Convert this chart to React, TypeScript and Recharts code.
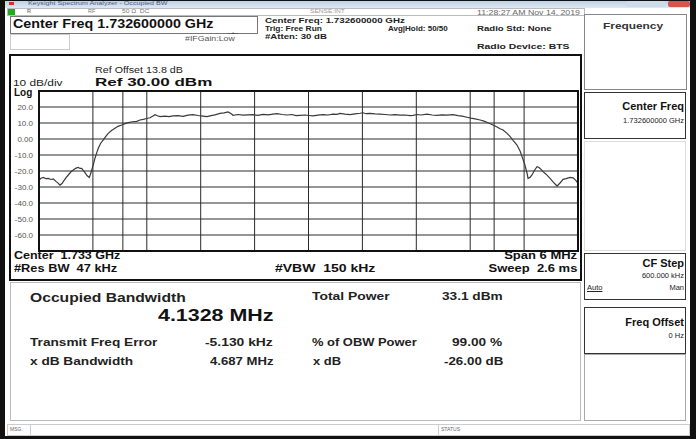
import { LineChart, Line, XAxis, YAxis, CartesianGrid, ReferenceLine } from 'recharts'

// frequency offset from centre (MHz) and trace level (dBm)
const freqOffsetMHz = [
  -3.0, -2.978, -2.952, -2.922, -2.896, -2.866, -2.841, -2.811, -2.785, -2.766,
  -2.744, -2.73, -2.699, -2.674, -2.644, -2.618, -2.588, -2.563, -2.544, -2.525,
  -2.505, -2.488, -2.466, -2.44, -2.427, -2.413, -2.393, -2.377, -2.357, -2.34,
  -2.315, -2.284, -2.254, -2.229, -2.193, -2.154, -2.121, -2.079, -2.043, -2.006,
  -1.959, -1.912, -1.876, -1.839, -1.803, -1.764, -1.736, -1.709, -1.681, -1.653,
  -1.598, -1.553, -1.508, -1.453, -1.397, -1.341, -1.286, -1.23, -1.174, -1.13,
  -1.085, -1.041, -0.985, -0.941, -0.896, -0.863, -0.84, -0.785, -0.729, -0.673,
  -0.618, -0.562, -0.506, -0.451, -0.395, -0.351, -0.295, -0.239, -0.184, -0.139,
  -0.095, -0.039, 0.006, 0.05, 0.106, 0.162, 0.217, 0.273, 0.317, 0.351,
  0.406, 0.462, 0.518, 0.573, 0.607, 0.64, 0.685, 0.741, 0.796, 0.852,
  0.907, 0.963, 1.019, 1.074, 1.13, 1.163, 1.208, 1.252, 1.319, 1.375,
  1.43, 1.486, 1.542, 1.608, 1.664, 1.709, 1.765, 1.809, 1.854, 1.91,
  1.954, 1.998, 2.054, 2.099, 2.132, 2.166, 2.21, 2.243, 2.277, 2.321,
  2.355, 2.377, 2.405, 2.433, 2.444, 2.466, 2.488, 2.516, 2.544, 2.566,
  2.588, 2.611, 2.644, 2.689, 2.722, 2.767, 2.8, 2.834, 2.867, 2.912,
  2.945, 2.978, 3.0,
]

const traceDbm = [
  -25.6, -24.5, -24.0, -24.8, -24.6, -25.3, -25.0, -26.5, -27.7, -28.8,
  -27.8, -26.7, -24.2, -22.5, -20.5, -19.4, -18.2, -17.7, -18.4, -18.3,
  -19.8, -21.0, -22.8, -24.0, -22.0, -19.4, -15.5, -12.0, -8.5, -5.8,
  -2.8, -0.6, 1.8, 3.5, 5.3, 6.7, 7.9, 8.75, 9.6, 10.2,
  10.8, 11.0, 11.9, 12.3, 12.8, 13.3, 14.2, 15.2, 14.5, 14.0,
  14.3, 14.0, 14.4, 14.6, 14.2, 14.9, 15.2, 14.7, 14.3, 14.0,
  14.6, 15.1, 16.0, 16.3, 16.9, 15.9, 14.8, 15.3, 14.9, 15.1,
  15.2, 14.8, 15.4, 15.1, 15.6, 15.8, 15.3, 15.0, 15.3, 14.6,
  14.8, 15.0, 14.7, 14.4, 14.9, 15.2, 15.0, 15.6, 15.4, 16.0,
  15.5, 15.2, 15.7, 16.1, 16.4, 15.8, 16.0, 15.7, 15.5, 15.3,
  15.0, 15.2, 14.9, 15.0, 14.6, 14.8, 15.3, 15.0, 15.6, 15.0,
  14.8, 15.1, 14.9, 15.2, 14.6, 14.3, 13.6, 13.0, 12.6, 11.9,
  11.2, 10.2, 8.75, 7.5, 6.4, 5.6, 3.5, 1.6, -0.8, -3.75,
  -7.5, -11.0, -15.5, -21.4, -24.6, -24.0, -22.5, -19.5, -17.3, -17.8,
  -19.0, -20.4, -22.0, -24.6, -26.8, -29.4, -27.5, -25.2, -24.8, -24.0,
  -24.3, -26.0, -27.7,
]

const xTicks = [-3, -2.4, -1.8, -1.2, -0.6, 0, 0.6, 1.2, 1.8, 2.4, 3]
const yTicks = [-70, -60, -50, -40, -30, -20, -10, 0, 10, 20, 30]
const obwMHz = 4.1328

const data = freqOffsetMHz.map((f, i) => ({ f, dbm: traceDbm[i] }))

const font = '"Liberation Sans", Arial, sans-serif'

// screen text; the analyser's font is wide, so most labels get stretched a little
function T({ x, y, size = 9, bold = false, color = '#111', right, sx = 1, children, underline }: any) {
  const style: any = {
    position: 'absolute',
    top: y - size * 0.58,
    fontSize: size,
    lineHeight: 1,
    fontWeight: bold ? 700 : 400,
    color,
    whiteSpace: 'pre',
    textDecoration: underline ? 'underline' : 'none',
    transform: `scaleX(${sx})`,
    transformOrigin: right !== undefined ? 'right center' : 'left center',
  }
  if (right !== undefined) style.right = 696 - right
  else style.left = x
  return <div style={style}>{children}</div>
}

function Box({ x, y, w, h, border = '1px solid #999', bg = 'transparent' }: any) {
  return (
    <div
      style={{
        position: 'absolute', left: x, top: y, width: w, height: h,
        border, background: bg, boxSizing: 'border-box',
      }}
    />
  )
}

const fmtY = (v: number) => {
  if (v === 30 || v === -70) return ''
  if (v === 0) return '0.00'
  return v.toFixed(1)
}

export default function App() {
  return (
    <div
      style={{
        position: 'fixed', left: 0, top: 0, width: 696, height: 439,
        background: '#fff', overflow: 'hidden', fontFamily: font,
      }}
    >
      {/* title bar */}
      <div style={{ position: 'absolute', left: 0, top: 0, width: 696, height: 8, background: 'linear-gradient(#b9cde4, #dfe8f3)' }} />
      <div style={{ position: 'absolute', left: 9, top: 2, width: 5, height: 3, background: '#c33' }} />
      <T x={28} y={4} size={5.5} sx={1.3} color="#4a5b80">Keysight Spectrum Analyzer - Occupied BW</T>
      <div style={{ position: 'absolute', left: 626, top: 1, width: 40, height: 6, background: '#cddbeb', borderRadius: 2 }} />
      <div style={{ position: 'absolute', left: 668, top: 1, width: 22, height: 6, background: '#d9534f', borderRadius: 2 }} />

      {/* status row */}
      <Box x={7} y={8} w={578} h={8} border="1px solid #bbb" />
      <div style={{ position: 'absolute', left: 8, top: 9, width: 7, height: 6, background: '#2a2' }} />
      <T x={27} y={12} size={5.5} color="#555">R</T>
      <T x={88} y={12} size={5.5} color="#777">RF</T>
      <T x={122} y={12} size={5.5} sx={1.2} color="#777">50 Ω  DC</T>
      <T x={310} y={12} size={5.5} sx={1.2} color="#999">SENSE:INT</T>
      <T x={477} y={13} size={7} sx={1.25} color="#666">11:28:27 AM Nov 14, 2019</T>

      {/* header */}
      <Box x={10} y={16} w={248} h={18} border="1px solid #777" />
      <T x={13} y={25} size={13.5} sx={1.06} bold>Center Freq 1.732600000 GHz</T>
      <Box x={10} y={34} w={60} h={16} border="1px solid #ccc" />
      <T x={228} y={33} size={6} color="#333">--•--</T>
      <T x={185} y={40} size={6.5} sx={1.35} color="#555">#IFGain:Low</T>
      <T x={265} y={21} size={7.5} sx={1.3} bold color="#222">Center Freq: 1.732600000 GHz</T>
      <T x={265} y={30} size={8} sx={1.05} bold color="#222">Trig: Free Run</T>
      <T x={265} y={38} size={8} sx={1.2} bold color="#222">#Atten: 30 dB</T>
      <T x={388} y={30} size={8} sx={1.0} bold color="#222">Avg|Hold: 50/50</T>
      <T x={477} y={30} size={8} sx={1.2} bold color="#222">Radio Std: None</T>
      <T x={477} y={48} size={8} sx={1.3} bold color="#222">Radio Device: BTS</T>

      {/* right softkey panel */}
      <Box x={584} y={14} w={103} h={76} border="1px solid #888" />
      <T x={603} y={27} size={9.5} sx={1.25} bold color="#333">Frequency</T>
      <Box x={584} y={92} w={102} h={47} border="1px solid #333" />
      <T right={684} y={107} size={11} bold>Center Freq</T>
      <T right={684} y={121} size={7.5} color="#222">1.732600000 GHz</T>
      <Box x={584} y={141} w={102} h={110} border="1px solid #ddd" />
      <Box x={584} y={253} w={102} h={47} border="1px solid #333" />
      <T right={684} y={264} size={11} bold>CF Step</T>
      <T right={684} y={276} size={7.5} color="#222">600.000 kHz</T>
      <T x={587} y={288} size={7.5} color="#222" underline>Auto</T>
      <T right={684} y={288} size={7.5} color="#222">Man</T>
      <Box x={584} y={307} w={102} h={47} border="1px solid #333" />
      <T right={684} y={323} size={11} bold>Freq Offset</T>
      <T right={684} y={336} size={7.5} color="#222">0 Hz</T>
      <Box x={584} y={354} w={102} h={67} border="1px solid #aaa" />

      {/* graph panel */}
      <Box x={9} y={54} w={573} h={227} border="2px solid #111" />
      <T x={95} y={71} size={8.5} sx={1.26} color="#222">Ref Offset 13.8 dB</T>
      <T x={13} y={84} size={9.5} sx={1.25} color="#222">10 dB/div</T>
      <T x={95} y={84} size={11.5} sx={1.48} bold>Ref 30.00 dBm</T>
      <T x={14} y={94} size={10} bold>Log</T>

      <div style={{ position: 'absolute', left: 0, top: 81 }}>
        <LineChart width={590} height={180} data={data} margin={{ top: 10, right: 12, bottom: 10, left: 0 }}>
          <CartesianGrid stroke="#2a2a2a" strokeWidth={1} vertical={false} />
          <XAxis
            dataKey="f" type="number" domain={[-3, 3]} ticks={xTicks}
            height={0} tick={false} axisLine={false} tickLine={false}
          />
          <YAxis
            type="number" domain={[-70, 30]} ticks={yTicks} width={39}
            tickFormatter={fmtY} axisLine={false} tickLine={false} tickSize={0} tickMargin={6}
            tick={{ fontSize: 8, fill: '#555', fontFamily: font }}
            interval={0}
          />
          {xTicks.map((t) => (
            <ReferenceLine key={t} x={t} stroke="#2a2a2a" />
          ))}
          <ReferenceLine x={-obwMHz / 2} stroke="#2a2a2a" />
          <ReferenceLine x={obwMHz / 2} stroke="#2a2a2a" />
          <Line type="linear" dataKey="dbm" stroke="#3a3a3a" strokeWidth={1.2} dot={false} isAnimationActive={false} />
        </LineChart>
      </div>
      <div style={{ position: 'absolute', left: 38, top: 90, width: 541, height: 162, border: '2px solid #111', boxSizing: 'border-box' }} />

      <T x={14} y={257} size={10} sx={1.25} bold>Center  1.733 GHz</T>
      <T right={577} y={257} size={10} sx={1.3} bold>Span 6 MHz</T>
      <T x={14} y={270} size={10} sx={1.28} bold>#Res BW  47 kHz</T>
      <T x={275} y={270} size={10} sx={1.4} bold>#VBW  150 kHz</T>
      <T right={577} y={270} size={10} sx={1.3} bold>Sweep  2.6 ms</T>

      {/* results panel */}
      <Box x={10} y={282} w={571} h={139} border="1px solid #bbb" />
      <T x={30} y={299} size={13.5} sx={1.16} bold color="#222">Occupied Bandwidth</T>
      <T x={158} y={317} size={17} sx={1.26} bold color="#111">4.1328 MHz</T>
      <T x={312} y={297} size={10.5} sx={1.32} bold color="#222">Total Power</T>
      <T x={442} y={297} size={10.5} sx={1.3} bold color="#222">33.1 dBm</T>
      <T x={30} y={343} size={10.5} sx={1.3} bold color="#222">Transmit Freq Error</T>
      <T x={205} y={343} size={10.5} sx={1.32} bold color="#222">-5.130 kHz</T>
      <T x={312} y={343} size={10.5} sx={1.23} bold color="#222">% of OBW Power</T>
      <T x={452} y={343} size={10.5} sx={1.3} bold color="#222">99.00 %</T>
      <T x={30} y={362} size={10.5} sx={1.3} bold color="#222">x dB Bandwidth</T>
      <T x={210} y={362} size={10.5} sx={1.25} bold color="#222">4.687 MHz</T>
      <T x={313} y={362} size={10.5} sx={1.23} bold color="#222">x dB</T>
      <T x={444} y={362} size={10.5} sx={1.27} bold color="#222">-26.00 dB</T>

      {/* bottom status bar */}
      <Box x={7} y={424} w={683} h={12} border="1px solid #ccc" />
      <div style={{ position: 'absolute', left: 30, top: 425, width: 1, height: 10, background: '#ccc' }} />
      <div style={{ position: 'absolute', left: 438, top: 425, width: 1, height: 10, background: '#ccc' }} />
      <T x={10} y={430} size={5} color="#666">MSG</T>
      <T x={441} y={430} size={5} color="#666">STATUS</T>

      {/* window frame */}
      <div style={{ position: 'absolute', left: 0, top: 0, width: 696, height: 439, borderLeft: '5px solid #111', borderRight: '6px solid #111', borderBottom: '3px solid #111', borderTop: '1px solid #111', boxSizing: 'border-box' }} />
    </div>
  )
}
